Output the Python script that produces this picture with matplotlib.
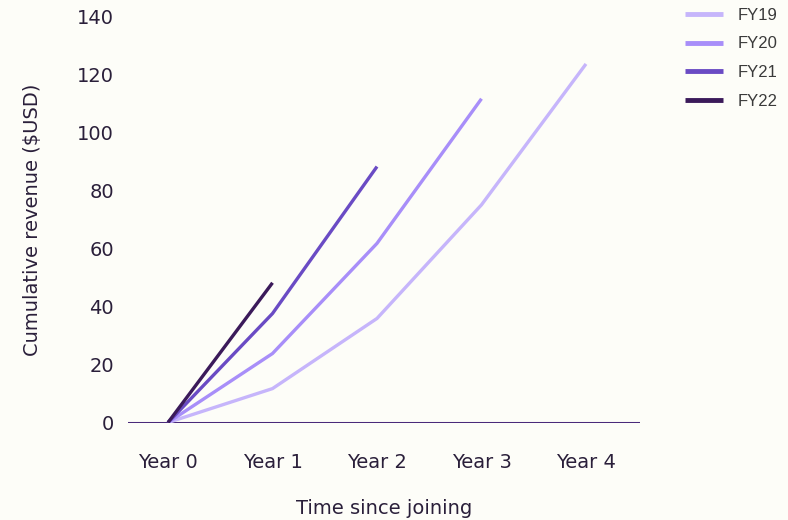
import matplotlib
matplotlib.use("Agg")
import matplotlib.pyplot as plt

# cumulative revenue per cohort, by year since joining
years = [0, 1, 2, 3, 4]
year_labels = ["Year 0", "Year 1", "Year 2", "Year 3", "Year 4"]
fy19 = [0, 11.7, 35.9, 75.1, 123.7]
fy20 = [0, 23.8, 61.8, 111.7]
fy21 = [0, 37.6, 88.3]
fy22 = [0, 48.2]

cohorts = ["FY19", "FY20", "FY21", "FY22"]
series = [fy19, fy20, fy21, fy22]
colors = ["#c6b5fb", "#a88ef9", "#6a4bc4", "#3b1a5a"]

bg = "#fdfdf8"
text_col = "#2a1f3a"

plt.rcParams["font.family"] = ["DejaVu Sans"]

fig = plt.figure(figsize=(7.88, 5.2), dpi=100, facecolor=bg)
ax = fig.add_axes([128 / 788, 1 - 422.5 / 520, (640 - 128) / 788, (422.5 - 16.7) / 520])
ax.set_facecolor(bg)

handles = []
for name, vals, c in zip(cohorts, series, colors):
    h, = ax.plot(years[:len(vals)], vals, color=c, lw=2.4, solid_capstyle="butt", label=name)
    handles.append(h)

ax.axhline(0, color="#4a2a7a", lw=2.2, zorder=1)

ax.set_xlim(-0.383, 4.517)
ax.set_ylim(0, 140)
ax.set_xticks(years)
ax.set_xticklabels(year_labels)
ax.set_yticks(range(0, 141, 20))
ax.tick_params(length=0, labelsize=14, colors=text_col)
ax.tick_params(axis="x", pad=22)
ax.tick_params(axis="y", pad=10)
for s in ax.spines.values():
    s.set_visible(False)

ax.set_xlabel("Time since joining", fontsize=14, color=text_col, labelpad=19.5)
ax.set_ylabel("Cumulative revenue ($USD)", fontsize=14, color=text_col, labelpad=25.5)

leg = fig.legend(handles=handles, loc="upper left", bbox_to_anchor=(678 / 788, 0.998),
                 borderaxespad=0, frameon=False, handlelength=2.3, handletextpad=0.9,
                 labelspacing=0.82, prop={"family": ["Liberation Sans", "DejaVu Sans"], "size": 12})
for t in leg.get_texts():
    t.set_color("#3a3a3a")
for lh in leg.legend_handles:
    lh.set_linewidth(3.5)

fig.savefig("out.png", dpi=100, facecolor=bg)
